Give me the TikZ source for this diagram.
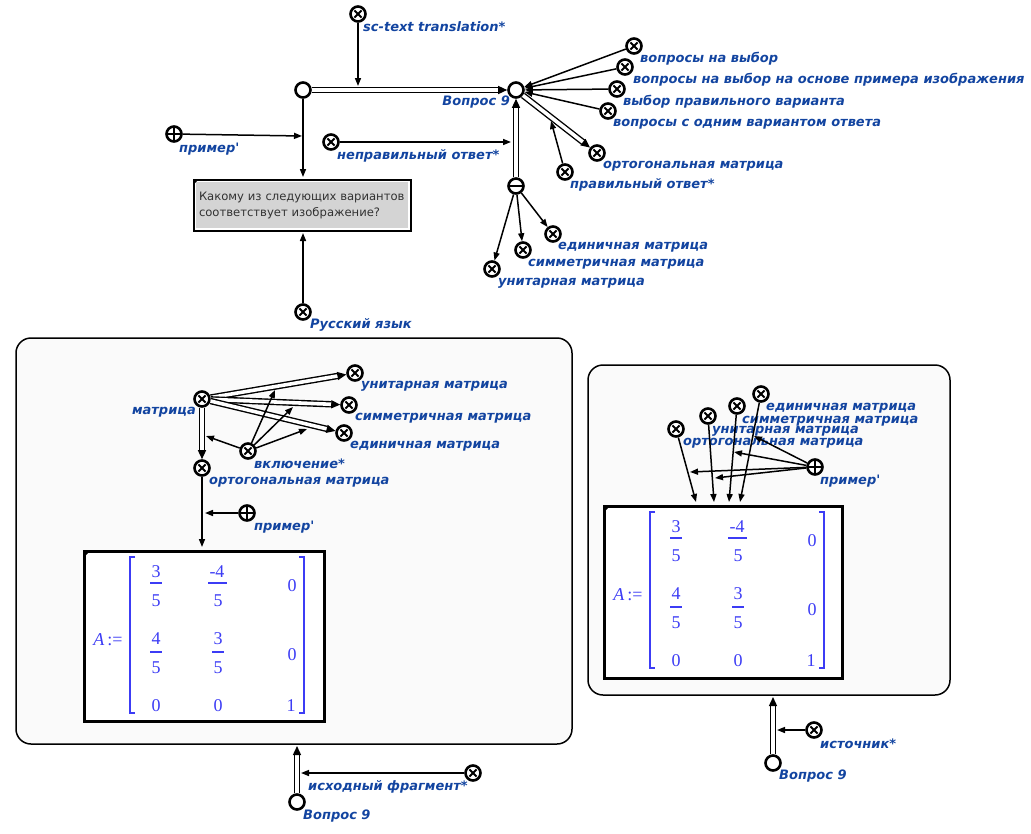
\documentclass[tikz,border=0pt]{standalone}
\usepackage{fontspec}
\setmainfont{DejaVu Sans}
\newfontfamily\lblfam{DejaVu Sans}
\newfontfamily\matfont{Liberation Serif}
\usetikzlibrary{arrows.meta,calc}
\definecolor{lblblue}{RGB}{18,68,160}
\definecolor{matblue}{RGB}{60,60,245}
\definecolor{boxgray}{RGB}{212,212,212}
\definecolor{contfill}{RGB}{250,250,250}
\definecolor{qtext}{RGB}{50,50,50}
\newcommand\lblfont{\lblfam\fontsize{13}{15}\selectfont\bfseries\itshape}
\newcommand\mymatrix{%
  \node[mtxt] (mA) at (25,90) {\textit{A}\,:=};
  \draw[mline] (52,7) -- (47,7) -- (47,163) -- (52,163);
  \draw[mline] (216,7) -- (221,7) -- (221,163) -- (216,163);
  \node[mtxt] (m11n) at (73,22) {3}; \draw[mbar] (67,33) -- (79,33); \node[mtxt] (m11d) at (73,51) {5};
  \node[mtxt] (m12n) at (134,22) {-4}; \draw[mbar] (125,33) -- (144,33); \node[mtxt] (m12d) at (135,51) {5};
  \node[mtxt] (m13) at (209,36) {0};
  \node[mtxt] (m21n) at (73,89) {4}; \draw[mbar] (67,102) -- (79,102); \node[mtxt] (m21d) at (73,118) {5};
  \node[mtxt] (m22n) at (135,89) {3}; \draw[mbar] (129,102) -- (141,102); \node[mtxt] (m22d) at (135,118) {5};
  \node[mtxt] (m23) at (209,105) {0};
  \node[mtxt] (m31) at (73,156) {0};
  \node[mtxt] (m32) at (135,156) {0};
  \node[mtxt] (m33) at (208,156) {1};
}
\begin{document}
\begin{tikzpicture}[x=1pt,y=-1pt,
  lbl/.style={font=\lblfont, text=lblblue, inner sep=0pt, anchor=west},
  lblr/.style={lbl, anchor=east},
  nd/.style={circle, draw, line width=2.6pt, fill=white, minimum size=15pt, inner sep=0pt},
  pnd/.style={nd},
  xnd/.style={nd, path picture={\draw[line width=1.8pt]
     ($(path picture bounding box.center)+(-3.6pt,-3.6pt)$) -- ($(path picture bounding box.center)+(3.6pt,3.6pt)$)
     ($(path picture bounding box.center)+(-3.6pt,3.6pt)$) -- ($(path picture bounding box.center)+(3.6pt,-3.6pt)$);}},
  plnd/.style={nd, path picture={\draw[line width=1.8pt]
     ($(path picture bounding box.center)+(-8pt,0pt)$) -- ($(path picture bounding box.center)+(8pt,0pt)$)
     ($(path picture bounding box.center)+(0pt,-8pt)$) -- ($(path picture bounding box.center)+(0pt,8pt)$);}},
  mnd/.style={nd, path picture={\draw[line width=2pt]
     ($(path picture bounding box.center)+(-8pt,0pt)$) -- ($(path picture bounding box.center)+(8pt,0pt)$);}},
  arr/.style={line width=1.5pt, -{Triangle[length=8pt,width=6pt]}},
  dbl/.style={draw=black, double=white, double distance=3.6pt, line width=1.4pt, -{Triangle[length=9pt,width=8pt]}},
  cont/.style={draw, line width=1.5pt, fill=contfill, rounded corners=15pt, inner sep=0pt},
  qbox/.style={draw, line width=3pt, fill=boxgray, inner xsep=5pt, inner ysep=6pt, text width=206pt, align=left,
     minimum height=50pt, font=\fontsize{11.6}{16}\selectfont, text=qtext},
  mbox/.style={draw, line width=3pt, fill=white, inner sep=0pt, anchor=north west},
  mtxt/.style={font=\matfont\fontsize{18}{18}\selectfont, text=matblue, inner sep=0pt},
  mline/.style={draw=matblue, line width=1.3pt},
  mbar/.style={draw=matblue, line width=1.2pt}
]
\useasboundingbox (0,0) rectangle (1031,833);

% containers
\node[cont, minimum width=556pt, minimum height=406pt] (lc) at (294,541) {};
\node[cont, minimum width=362pt, minimum height=330pt] (rc) at (769,530) {};

% ---------- top part ----------
\node[xnd] (sct) at (358,14) {};
\node[lbl] (l-sct) at (363,27) {sc-text translation*};
\node[pnd] (pair) at (303,90) {};
\node[pnd] (v9) at (516,90) {};
\node[lblr] (l-v9) at (510,102) {Вопрос 9};
\draw[dbl] (pair) -- (v9);
\coordinate (c1) at (358,86);
\draw[arr] (sct) -- (c1);

\node[plnd] (pr1) at (174,134) {};
\node[lbl] (l-pr1) at (179,149) {пример'};

\node[qbox] (qb) at (302,205) {Какому из следующих вариантов\\соответствует изображение?};
\draw[white, line width=1.2pt] ([shift={(2.6pt,-2.6pt)}]qb.north west) rectangle ([shift={(-2.6pt,2.6pt)}]qb.south east);
\fill ([shift={(1pt,-1pt)}]qb.north west) -- ++(5pt,0pt) -- ++(-5pt,-5pt) -- cycle;
\coordinate (c2) at (303,177);
\draw[arr] (pair) -- (c2);
\coordinate (c3) at (302,136);
\draw[arr] (pr1) -- (c3);

\node[xnd] (rus) at (303,312) {};
\node[lbl] (l-rus) at (310,325) {Русский язык};
\coordinate (c4) at (303,233);
\draw[arr] (rus) -- (c4);

\node[xnd] (wr) at (331,142) {};
\node[lbl] (l-wr) at (337,156) {неправильный ответ*};
\node[mnd] (mn) at (516,186) {};
\draw[dbl] (mn) -- (v9);
\coordinate (c5) at (511,142);
\draw[arr] (wr) -- (c5);

\node[xnd] (q1) at (634,46) {};
\node[lbl] (l-q1) at (640,59) {вопросы на выбор};
\node[xnd] (q2) at (625,67) {};
\node[lbl] (l-q2) at (633,80) {вопросы на выбор на основе примера изображения};
\node[xnd] (q3) at (617,89) {};
\node[lbl] (l-q3) at (623,102) {выбор правильного варианта};
\node[xnd] (q4) at (608,111) {};
\node[lbl] (l-q4) at (613,124) {вопросы с одним вариантом ответа};
\foreach \n in {q1,q2,q3,q4} \draw[arr] (\n) -- (v9);

\node[xnd] (og) at (597,153) {};
\node[lbl] (l-og) at (603,166) {ортогональная матрица};
\draw[dbl] (v9) -- (og);
\node[xnd] (ra) at (565,172) {};
\node[lbl] (l-ra) at (570,185) {правильный ответ*};
\coordinate (c6) at (551,121);
\draw[arr] (ra) -- (c6);

\node[xnd] (u1) at (492,269) {};
\node[lbl] (l-u1) at (498,283) {унитарная матрица};
\node[xnd] (s1) at (523,250) {};
\node[lbl] (l-s1) at (528,264) {симметричная матрица};
\node[xnd] (e1) at (553,234) {};
\node[lbl] (l-e1) at (558,247) {единичная матрица};
\foreach \n in {u1,s1,e1} \draw[arr] (mn) -- (\n);

% ---------- left container ----------
\node[xnd] (lm) at (202,399) {};
\node[lblr] (l-lm) at (196,412) {матрица};
\node[xnd] (lu) at (355,373) {};
\node[lbl] (l-lu) at (361,386) {унитарная матрица};
\node[xnd] (ls) at (349,405) {};
\node[lbl] (l-ls) at (355,418) {симметричная матрица};
\node[xnd] (le) at (344,433) {};
\node[lbl] (l-le) at (350,446) {единичная матрица};
\node[xnd] (lo) at (202,468) {};
\node[lbl] (l-lo) at (209,482) {ортогональная матрица};
\foreach \n in {lu,ls,le,lo} \draw[dbl] (lm) -- (\n);

\node[xnd] (inc) at (248,451) {};
\node[lbl] (l-inc) at (254,464) {включение*};
\coordinate (i1) at (275,390);
\coordinate (i2) at (293,407);
\coordinate (i3) at (307,429);
\coordinate (i4) at (206,436);
\foreach \n in {i1,i2,i3,i4} \draw[arr] (inc) -- (\n);

\node[plnd] (lpr) at (247,513) {};
\node[lbl] (l-lpr) at (254,527) {пример'};
\node[mbox, minimum width=240pt, minimum height=170pt] (lmb) at (83,550) {};
\fill ([shift={(1.5pt,-1.5pt)}]lmb.north west) -- ++(5pt,0pt) -- ++(-5pt,-5pt) -- cycle;
\begin{scope}[shift={(lmb.north west)}]
  \mymatrix
\end{scope}
\coordinate (c7) at (202,547);
\draw[arr] (lo) -- (c7);
\coordinate (c8) at (205,513);
\draw[arr] (lpr) -- (c8);

% ---------- right container ----------
\node[lbl] (l-re) at (766,408) {единичная матрица};
\node[lbl] (l-rs) at (742,421) {симметричная матрица};
\node[lbl] (l-ru) at (712,431) {унитарная матрица};
\node[lbl] (l-ro) at (683,443) {ортогональная матрица};
\node[xnd] (ro) at (676,429) {};
\node[xnd] (rua) at (708,416) {};
\node[xnd] (rs) at (737,406) {};
\node[xnd] (re) at (761,394) {};
\node[mbox, minimum width=238pt, minimum height=172pt] (rmb) at (603,505) {};
\fill ([shift={(1.5pt,-1.5pt)}]rmb.north west) -- ++(5pt,0pt) -- ++(-5pt,-5pt) -- cycle;
\begin{scope}[shift={(rmb.north west)}]
  \mymatrix
\end{scope}
\coordinate (t1) at (696,502);
\coordinate (t2) at (714,502);
\coordinate (t3) at (729,502);
\coordinate (t4) at (740,502);
\draw[arr] (ro) -- (t1);
\draw[arr] (rua) -- (t2);
\draw[arr] (rs) -- (t3);
\draw[arr] (re) -- (t4);
\node[plnd] (rpr) at (815,467) {};
\node[lbl] (l-rpr) at (820,481) {пример'};
\coordinate (p1) at (690,472);
\coordinate (p2) at (715,478);
\coordinate (p3) at (734,452);
\coordinate (p4) at (754,436);
\foreach \n in {p1,p2,p3,p4} \draw[arr] (rpr) -- (\n);

% ---------- bottom ----------
\node[pnd] (vb1) at (297,802) {};
\node[lbl] (l-vb1) at (303,816) {Вопрос 9};
\coordinate (c9) at (297,746);
\draw[dbl] (vb1) -- (c9);
\node[xnd] (src1) at (473,773) {};
\node[lbl] (l-src1) at (308,787) {исходный фрагмент*};
\coordinate (c10) at (301,773);
\draw[arr] (src1) -- (c10);

\node[pnd] (vb2) at (773,763) {};
\node[lbl] (l-vb2) at (779,776) {Вопрос 9};
\coordinate (c11) at (773,697);
\draw[dbl] (vb2) -- (c11);
\node[xnd] (src2) at (814,730) {};
\node[lbl] (l-src2) at (820,744) {источник*};
\coordinate (c12) at (777,730);
\draw[arr] (src2) -- (c12);
\end{tikzpicture}
\end{document}
